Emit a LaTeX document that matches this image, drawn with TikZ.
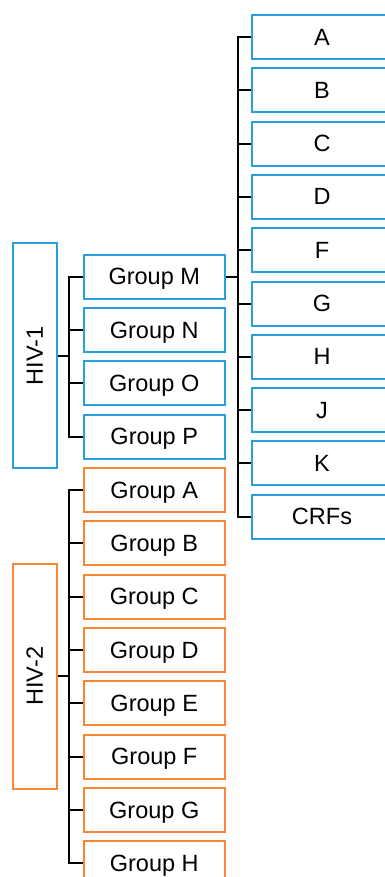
\documentclass[tikz,border=0pt]{standalone}
\usepackage{fontspec}
\setmainfont{Liberation Sans}
\definecolor{hivblue}{RGB}{40,160,220}
\definecolor{hivorange}{RGB}{252,134,52}
\begin{document}
\begin{tikzpicture}[x=1pt,y=-1pt,
  box/.style={draw,line width=2pt,inner sep=0pt,text depth=0pt,font=\fontsize{23.5}{27}\selectfont,text=black},
  bluebox/.style={box,draw=hivblue},
  orangebox/.style={box,draw=hivorange},
  grp/.style={minimum width=141.5pt,minimum height=44pt},
  sub/.style={minimum width=140pt,minimum height=44pt,anchor=west},
  virus/.style={minimum width=225pt,minimum height=44pt,rotate=90},
  conn/.style={draw=black,line width=2pt}]
\clip (0,0) rectangle (385,877);
% HIV boxes
\node[bluebox,virus] (hiv1) at (34.7,355.8) {HIV-1};
\node[orangebox,virus] (hiv2) at (34.7,676.2) {HIV-2};
% groups HIV-1
\node[bluebox,grp] (gM) at (154.25,276.5) {Group M};
\node[bluebox,grp] (gN) at (154.25,329.85) {Group N};
\node[bluebox,grp] (gO) at (154.25,383.2) {Group O};
\node[bluebox,grp] (gP) at (154.25,436.55) {Group P};
% groups HIV-2
\node[orangebox,grp] (gA) at (154.25,489.9) {Group A};
\node[orangebox,grp] (gB) at (154.25,543.25) {Group B};
\node[orangebox,grp] (gC) at (154.25,596.6) {Group C};
\node[orangebox,grp] (gD) at (154.25,649.95) {Group D};
\node[orangebox,grp] (gE) at (154.25,703.3) {Group E};
\node[orangebox,grp] (gF) at (154.25,756.65) {Group F};
\node[orangebox,grp] (gG) at (154.25,810) {Group G};
\node[orangebox,grp] (gH) at (154.25,863.35) {Group H};
% subtypes
\node[bluebox,sub] (sA) at (251,37) {A};
\node[bluebox,sub] (sB) at (251,90.3) {B};
\node[bluebox,sub] (sC) at (251,143.6) {C};
\node[bluebox,sub] (sD) at (251,196.9) {D};
\node[bluebox,sub] (sF) at (251,250.2) {F};
\node[bluebox,sub] (sG) at (251,303.5) {G};
\node[bluebox,sub] (sH) at (251,356.8) {H};
\node[bluebox,sub] (sJ) at (251,410.1) {J};
\node[bluebox,sub] (sK) at (251,463.4) {K};
\node[bluebox,sub] (sCRF) at (251,516.7) {CRFs};
% HIV-1 comb
\path[conn] (gM.west) -- ++(-13.5,0) |- (gP.west);
\path[conn] (gN.west) -- ++(-13.5,0);
\path[conn] (gO.west) -- ++(-13.5,0);
\coordinate (j1) at (gM.west -| 70,0);
\path[conn] (hiv1.south) -- (hiv1.south -| j1);
% HIV-2 comb
\path[conn] (gA.west) -- ++(-13.5,0) |- (gH.west);
\foreach \g in {gB,gC,gD,gE,gF,gG}{\path[conn] (\g.west) -- ++(-13.5,0);}
\path[conn] (hiv2.south) -- (hiv2.south -| j1);
% subtype comb
\path[conn] (sA.west) -- ++(-13.5,0) |- (sCRF.west);
\foreach \s in {sB,sC,sD,sF,sG,sH,sJ,sK}{\path[conn] (\s.west) -- ++(-13.5,0);}
\path[conn] (gM.east) -- (gM.east -| 237.5,0);
\end{tikzpicture}
\end{document}
